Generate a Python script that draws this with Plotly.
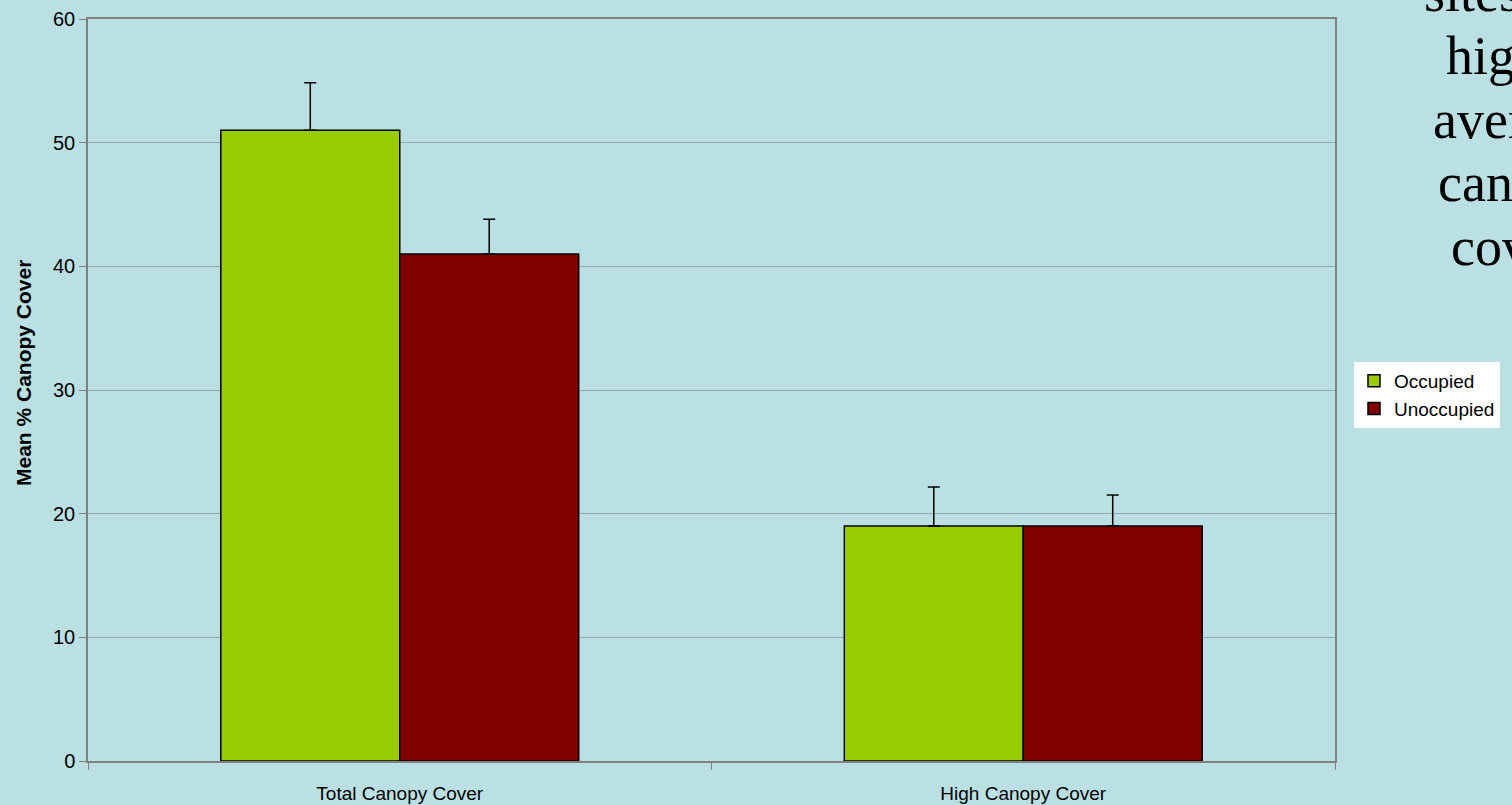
import plotly.graph_objects as go

categories = ["Total Canopy Cover", "High Canopy Cover"]
occupied = [51.0, 19.0]
unoccupied = [41.0, 19.0]
occupied_err = [3.85, 3.15]
unoccupied_err = [2.8, 2.5]
side_lines = ["sites", "higher", "average", "canopy", "cover"]
side_x_px = [1422, 1444, 1431, 1436, 1449]
side_base_px = [14, 77, 141, 204, 268]

BG = "#BBE0E3"
W, H = 1512, 805
L, R, T, B = 88, 177, 19, 44

fig = go.Figure()
fig.add_trace(go.Bar(
    x=categories, y=occupied, name="Occupied",
    marker=dict(color="#99CC00", line=dict(color="black", width=1.5)),
    error_y=dict(type="data", symmetric=False, array=occupied_err,
                 arrayminus=[0, 0], color="black", thickness=1.5, width=6),
))
fig.add_trace(go.Bar(
    x=categories, y=unoccupied, name="Unoccupied",
    marker=dict(color="#800000", line=dict(color="black", width=1.5)),
    error_y=dict(type="data", symmetric=False, array=unoccupied_err,
                 arrayminus=[0, 0], color="black", thickness=1.5, width=6),
))

plot_w = W - L - R
plot_h = H - T - B
annotations = []
for txt, xp, bp in zip(side_lines, side_x_px, side_base_px):
    cy = bp - 21
    annotations.append(dict(
        text=txt, xref="paper", yref="paper",
        x=(xp - L) / plot_w, y=(H - B - cy) / plot_h,
        xanchor="left", yanchor="middle", showarrow=False,
        font=dict(family="Liberation Serif", size=54, color="black"),
    ))
annotations.append(dict(
    text="<b>Mean % Canopy Cover</b>", xref="paper", yref="paper",
    x=(23 - L) / plot_w, y=(H - B - 373) / plot_h,
    xanchor="center", yanchor="middle", showarrow=False, textangle=-90,
    font=dict(family="Liberation Sans", size=21, color="black"),
))

fig.update_layout(
    width=W, height=H,
    margin=dict(l=L, r=R, t=T, b=B, pad=0),
    paper_bgcolor=BG, plot_bgcolor=BG,
    barmode="group", bargap=0.426, bargroupgap=0,
    font=dict(family="Liberation Sans", color="black"),
    showlegend=True,
    legend=dict(
        x=(1354 - L) / plot_w, xanchor="left",
        y=(H - B - 362) / plot_h, yanchor="top",
        bgcolor="white", borderwidth=0,
        font=dict(family="Liberation Sans", size=19, color="black"),
        tracegroupgap=0, itemwidth=30,
    ),
    annotations=annotations,
)
fig.update_xaxes(
    automargin=False,
    showline=True, linecolor="#808080", linewidth=1.5, mirror=True,
    showgrid=False, ticks="outside", tickson="boundaries", ticklen=7,
    tickcolor="#808080", tickwidth=1,
    tickfont=dict(family="Liberation Sans", size=19, color="black"),
    ticklabelstandoff=14,
)
fig.update_yaxes(
    automargin=False,
    range=[0, 60], dtick=10, tick0=0,
    showline=True, linecolor="#808080", linewidth=1.5, mirror=True,
    showgrid=True, gridcolor="#8FA9AD", gridwidth=1,
    zeroline=False,
    ticks="outside", ticklen=7, tickcolor="#808080", tickwidth=1,
    tickfont=dict(family="Liberation Sans", size=20, color="black"),
)

fig.write_html("out.html", config={"displayModeBar": False},
               post_script="document.body.style.margin='0';document.body.style.overflow='hidden';")
